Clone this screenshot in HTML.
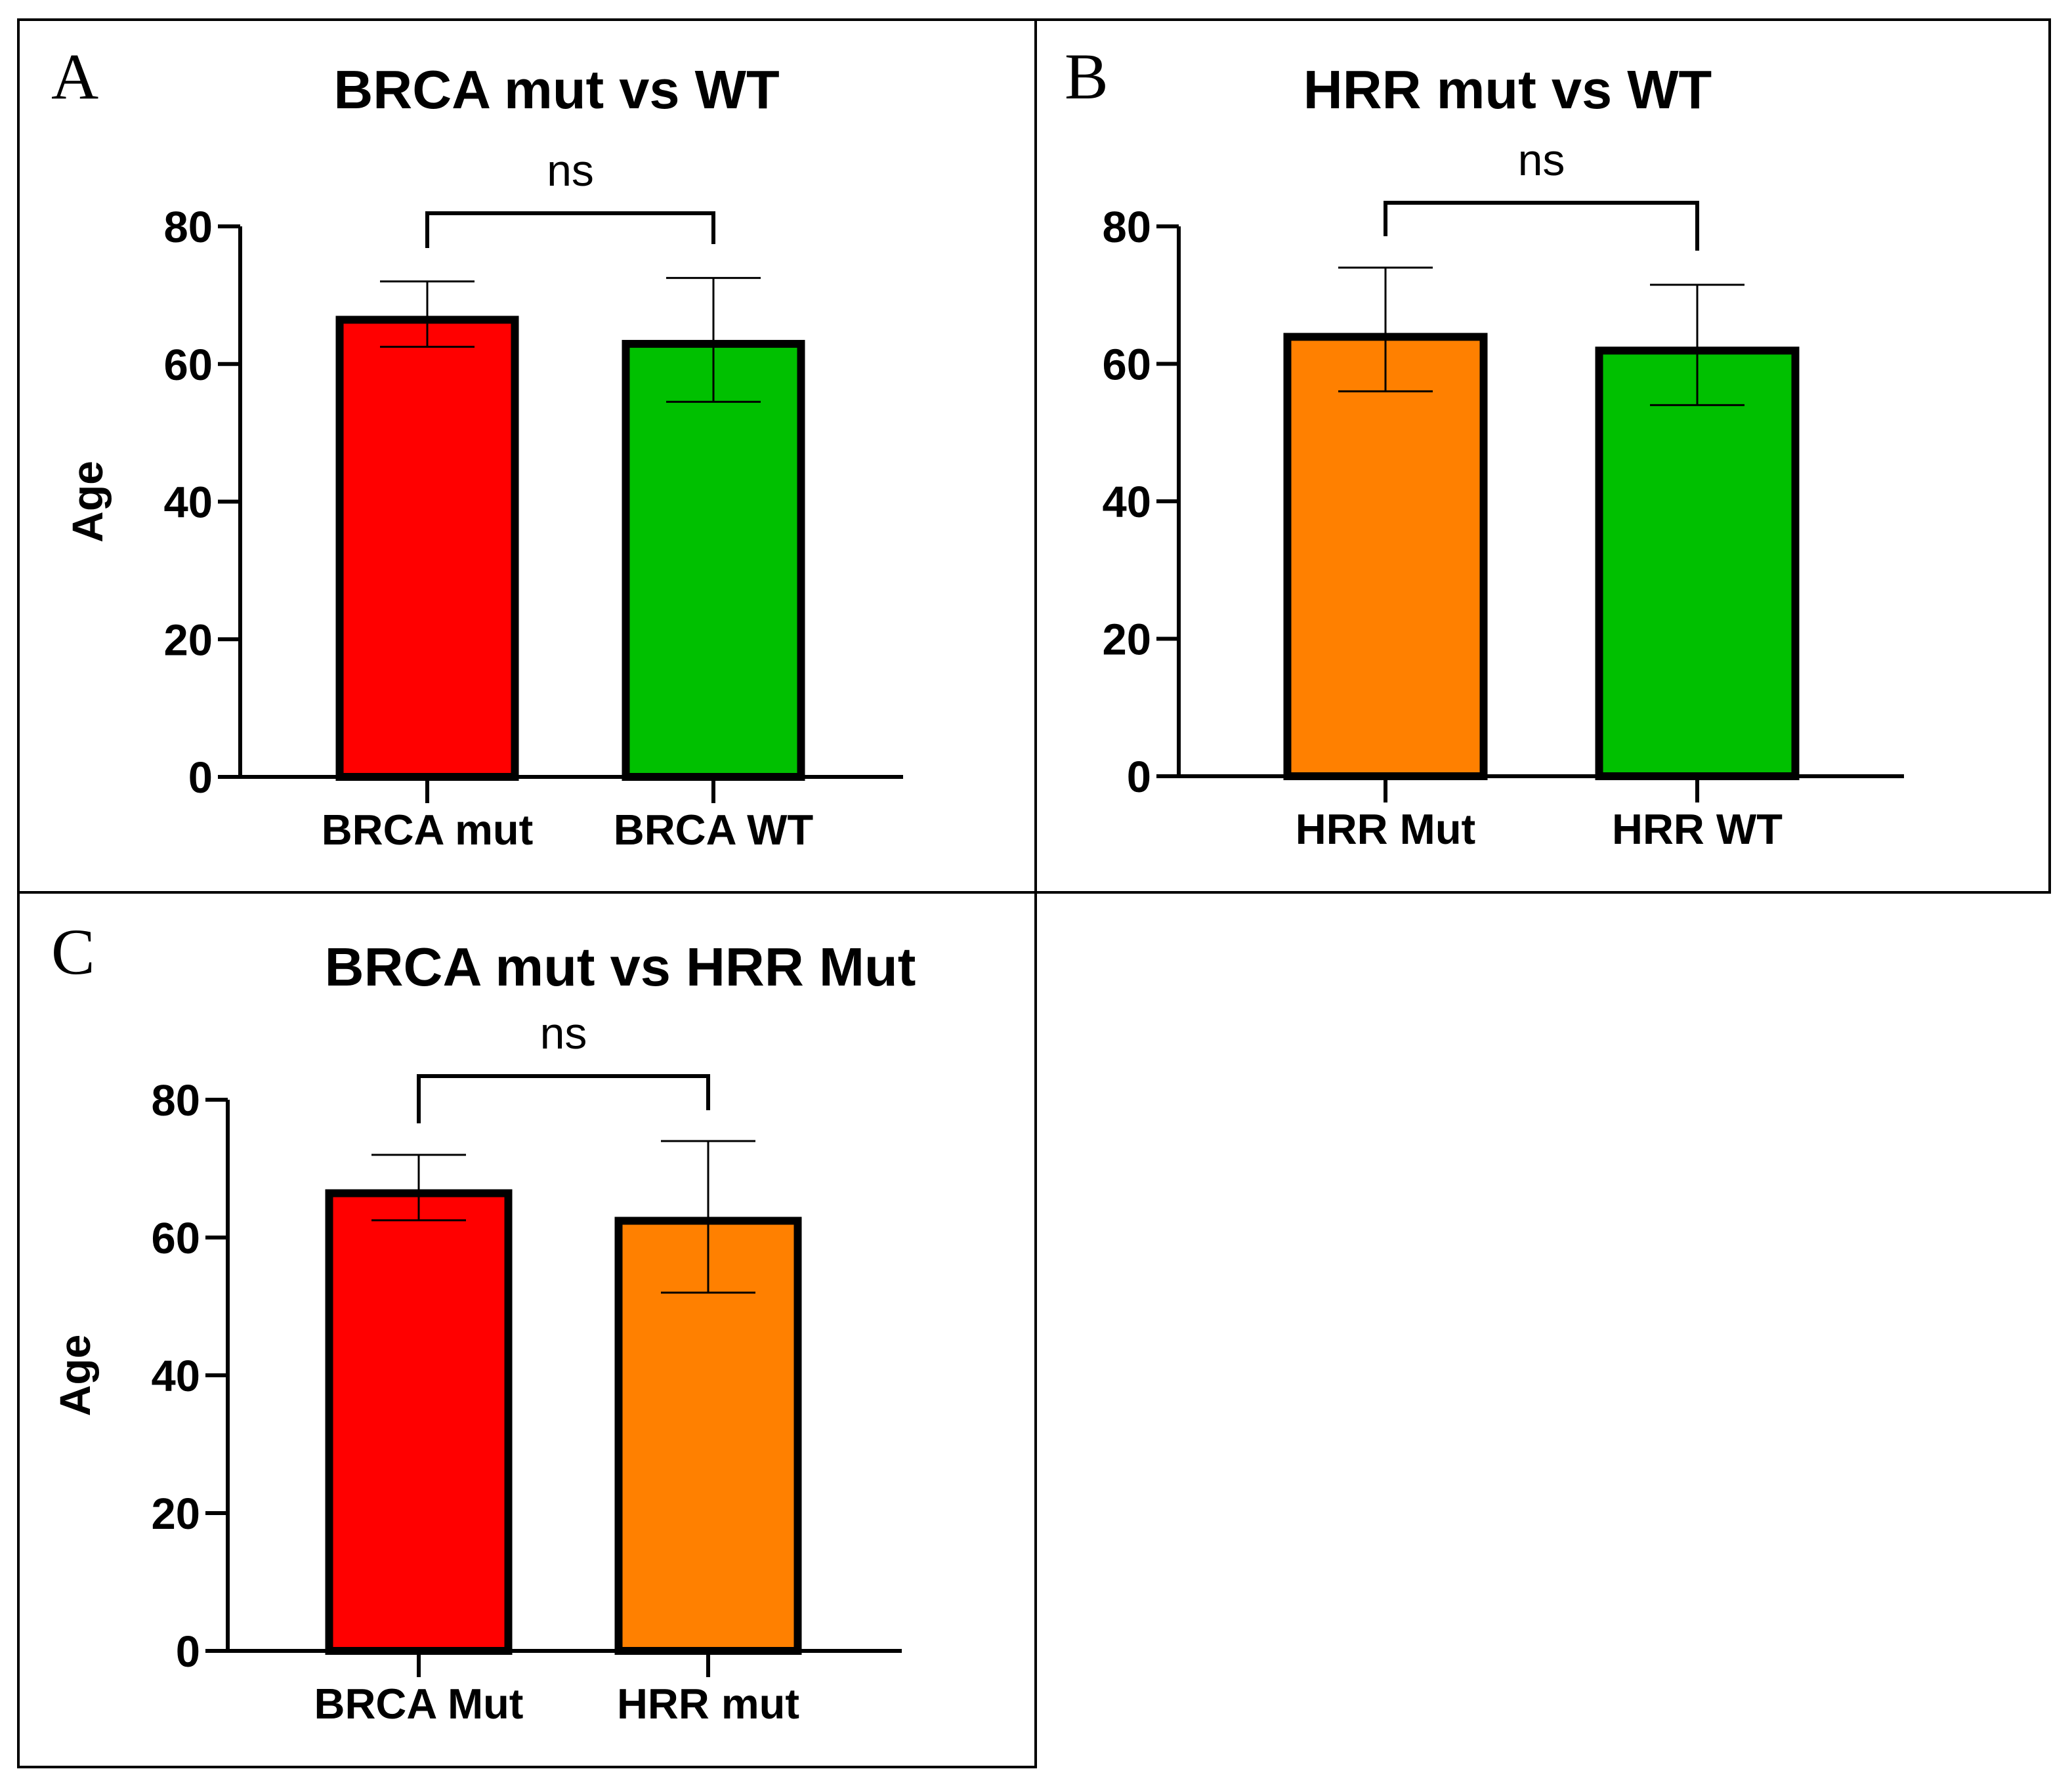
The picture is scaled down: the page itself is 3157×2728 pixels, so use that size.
<!DOCTYPE html>
<html><head><meta charset="utf-8"><style>
html,body{margin:0;padding:0;background:#fff;}
svg{display:block;}
text{font-family:"Liberation Sans",Arial,sans-serif;}
</style></head>
<body>
<svg id="fig" width="3157" height="2728" viewBox="0 0 3157 2728" xmlns="http://www.w3.org/2000/svg">
<rect x="0" y="0" width="3157" height="2728" fill="#fff"/>
</svg>
<script>
// Panel A data
const catsA = ["BRCA mut", "BRCA WT"];
const valsA = [67, 63.5];
const errHiA = [72, 72.5];
const errLoA = [62.5, 54.5];
// Panel B data
const catsB = ["HRR Mut", "HRR WT"];
const valsB = [64.5, 62.5];
const errHiB = [74, 71.5];
const errLoB = [56, 54];
// Panel C data
const catsC = ["BRCA Mut", "HRR mut"];
const valsC = [67, 63];
const errHiC = [72, 74];
const errLoC = [62.5, 52];
// shared axis ticks
const yTicks = [0, 20, 40, 60, 80];
const yTickLabels = ["0", "20", "40", "60", "80"];

const NS = "http://www.w3.org/2000/svg";
const svg = document.getElementById("fig");
function mk(tag, attrs, parent) {
  const e = document.createElementNS(NS, tag);
  for (const k in attrs) e.setAttribute(k, attrs[k]);
  (parent || svg).appendChild(e);
  return e;
}

function panel(cfg, cats, vals, hi, lo) {
  const g = mk("g", {});
  
  
  const box = mk("rect", {x: cfg.bx, y: cfg.by, width: cfg.bw, height: cfg.bh, fill: "none", stroke: "#000", "stroke-width": 4}, g);
  
  
  const letter = mk("text", {x: cfg.lx, y: cfg.ly, "font-size": 100, style: "font-family:'Liberation Serif',serif"}, g);
  letter.textContent = cfg.letter;
  
  
  const title = mk("text", {x: cfg.tx, y: cfg.ty, "font-size": 83, "font-weight": "bold", "text-anchor": "middle"}, g);
  title.textContent = cfg.title;
  
  

  const yScale = v => cfg.y0 + (cfg.y80 - cfg.y0) * v / 80;
  const xCenter = i => cfg.c0 + i * (cfg.c1 - cfg.c0);

  const ya = mk("line", {x1: cfg.ax, y1: yScale(80), x2: cfg.ax, y2: yScale(0) + 3, stroke: "#000", "stroke-width": 6}, g);
  
  
  yTicks.forEach((t, i) => {
    const tk = mk("line", {x1: cfg.ax - 34, y1: yScale(t), x2: cfg.ax, y2: yScale(t), stroke: "#000", "stroke-width": 6}, g);
    
    
    const tl = mk("text", {x: cfg.ax - 42, y: yScale(t) + 24, "font-size": 67, "font-weight": "bold", "text-anchor": "end"}, g);
    tl.textContent = yTickLabels[i];
    
    
  });
  if (cfg.age) {
    const yt = mk("text", {x: 0, y: 0, "font-size": 66, "font-weight": "bold", "text-anchor": "middle", transform: "translate(" + (cfg.ax - 210) + "," + yScale(40) + ") rotate(-90)"}, g);
    yt.textContent = "Age";
    
    
  }
  vals.forEach((v, i) => {
    const cx = xCenter(i);
    const bar = mk("rect", {x: cx - cfg.bwid / 2 + 6, y: yScale(v) + 6, width: cfg.bwid - 12, height: yScale(0) - yScale(v) - 6, fill: cfg.colors[i], stroke: "#000", "stroke-width": 12}, g);
    
    
    const eb = mk("g", {stroke: "#000", "stroke-width": 3}, g);
    
    
    mk("line", {x1: cx, y1: yScale(hi[i]), x2: cx, y2: yScale(lo[i])}, eb);
    mk("line", {x1: cx - 72, y1: yScale(hi[i]), x2: cx + 72, y2: yScale(hi[i])}, eb);
    mk("line", {x1: cx - 72, y1: yScale(lo[i]), x2: cx + 72, y2: yScale(lo[i])}, eb);
    const xt = mk("line", {x1: cx, y1: yScale(0), x2: cx, y2: yScale(0) + 40, stroke: "#000", "stroke-width": 6}, g);
    
    
    const xl = mk("text", {x: cx, y: yScale(0) + 103, "font-size": 65, "font-weight": "bold", "text-anchor": "middle"}, g);
    xl.textContent = cats[i];
    
    
  });
  const xa = mk("line", {x1: cfg.ax - 34, y1: yScale(0), x2: cfg.xend, y2: yScale(0), stroke: "#000", "stroke-width": 6}, g);
  
  
  const br = mk("polyline", {points: xCenter(0) + "," + cfg.tipL + " " + xCenter(0) + "," + cfg.bry + " " + xCenter(1) + "," + cfg.bry + " " + xCenter(1) + "," + cfg.tipR, fill: "none", stroke: "#000", "stroke-width": 6}, g);
  
  
  const ns = mk("text", {x: (xCenter(0) + xCenter(1)) / 2, y: cfg.bry - 42, "font-size": 68, "text-anchor": "middle"}, g);
  ns.textContent = "ns";
  
  
}

panel({id: "panel-a", bx: 28, by: 30, bw: 1550, bh: 1330, letter: "A", lx: 78, ly: 150, title: "BRCA mut vs WT", tx: 848, ty: 165,
  ax: 366, y80: 345, y0: 1184, c0: 651, c1: 1087, bwid: 279, xend: 1376, bry: 325, tipL: 378, tipR: 372,
  colors: ["#ff0000", "#00c000"], age: true}, catsA, valsA, errHiA, errLoA);
panel({id: "panel-b", bx: 1578, by: 30, bw: 1545, bh: 1330, letter: "B", lx: 1622, ly: 150, title: "HRR mut vs WT", tx: 2297, ty: 165,
  ax: 1796, y80: 345, y0: 1183, c0: 2111, c1: 2586, bwid: 311, xend: 2901, bry: 309, tipL: 360, tipR: 382,
  colors: ["#ff8000", "#00c000"], age: false}, catsB, valsB, errHiB, errLoB);
panel({id: "panel-c", bx: 28, by: 1360, bw: 1550, bh: 1333, letter: "C", lx: 78, ly: 1484, title: "BRCA mut vs HRR Mut", tx: 945, ty: 1502,
  ax: 347, y80: 1676, y0: 2516, c0: 638, c1: 1079, bwid: 285, xend: 1374, bry: 1640, tipL: 1712, tipR: 1692,
  colors: ["#ff0000", "#ff8000"], age: true}, catsC, valsC, errHiC, errLoC);
</script>
</body></html>
